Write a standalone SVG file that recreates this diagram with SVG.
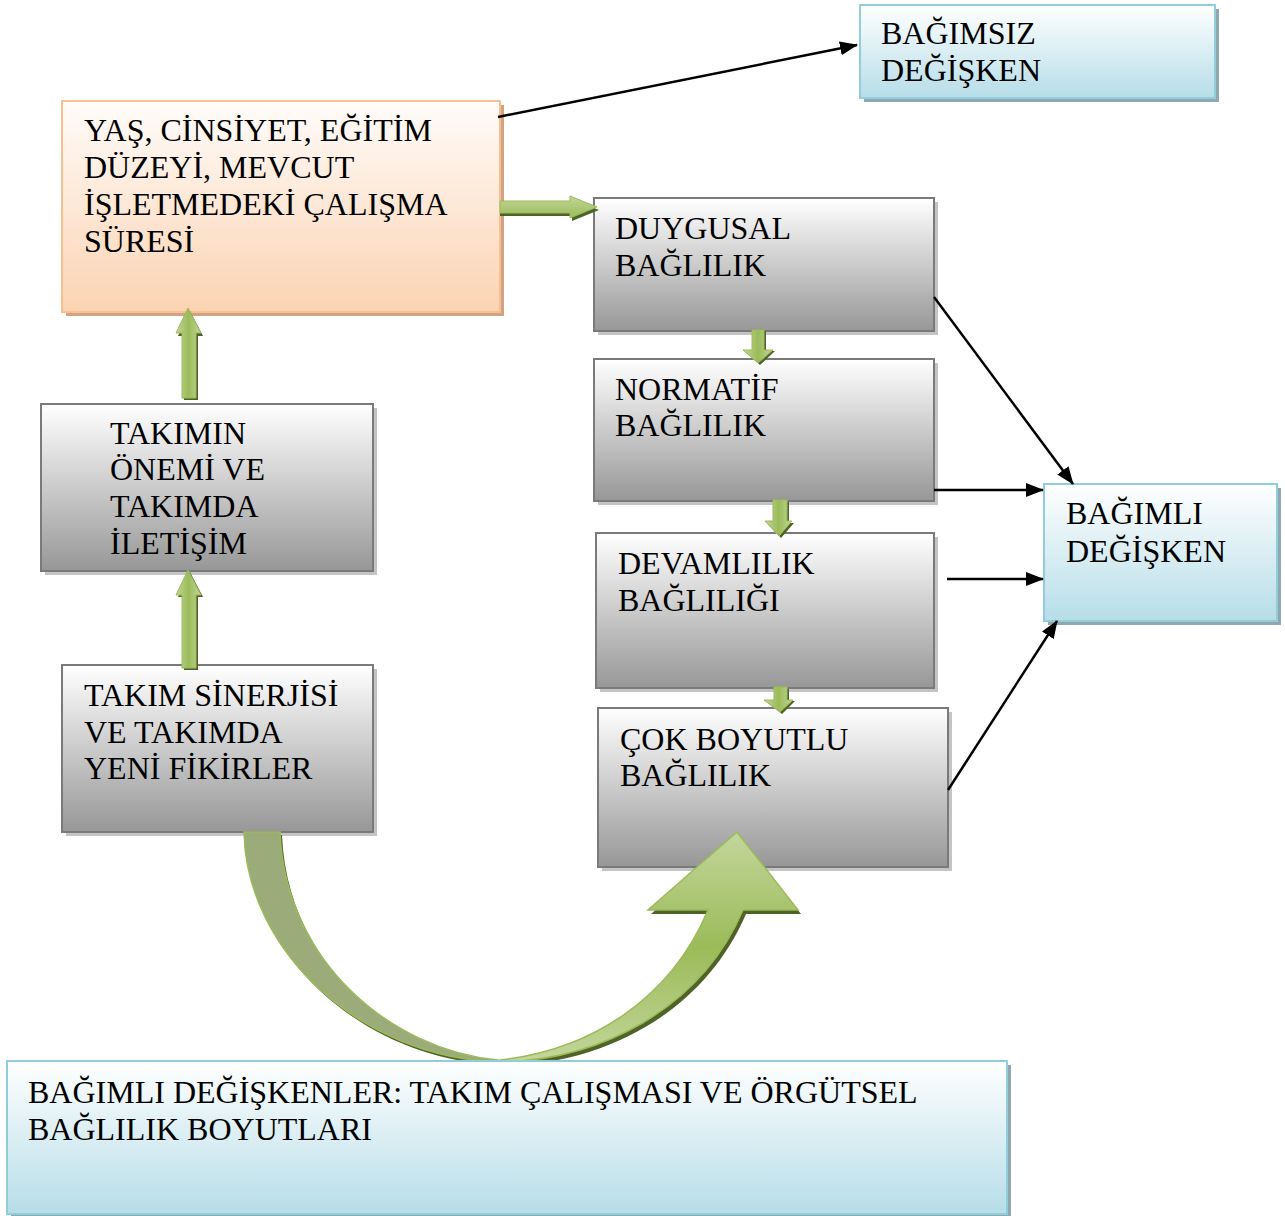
<svg xmlns="http://www.w3.org/2000/svg" width="1285" height="1216" viewBox="0 0 1285 1216">
<style>
text{font-family:"Liberation Serif","Times New Roman",serif;font-size:32px;fill:#000}
.gray{fill:url(#gGray);stroke:#7a7a7a;stroke-width:2}
.peach{fill:url(#gPeach);stroke:#fabf8f;stroke-width:2}
.blue{fill:url(#gBlue);stroke:#92cddc;stroke-width:2}
.shg{fill:#c4c4c4}
.shp{fill:#cfa383}
.shb{fill:#8ea8b0}
.conn{stroke:#000;stroke-width:2.5;fill:none;marker-end:url(#ah)}
.garrow{fill:url(#gGreen);stroke:#9bbb59;stroke-width:1}
.gshadow{fill:#4f6228}
</style>
<defs>
<linearGradient id="gGray" x1="0" y1="0" x2="0" y2="1"><stop offset="0" stop-color="#ffffff"/><stop offset="1" stop-color="#979797"/></linearGradient>
<linearGradient id="gPeach" x1="0" y1="0" x2="0" y2="1"><stop offset="0" stop-color="#fffcfa"/><stop offset="1" stop-color="#fbd3b2"/></linearGradient>
<linearGradient id="gBlue" x1="0" y1="0" x2="0" y2="1"><stop offset="0" stop-color="#ffffff"/><stop offset="1" stop-color="#b6dde8"/></linearGradient>
<linearGradient id="gGreen" x1="0" y1="0" x2="0" y2="1"><stop offset="0" stop-color="#c3d69b"/><stop offset="1" stop-color="#9bbb59"/></linearGradient>
<linearGradient id="gGreenH" x1="0" y1="0" x2="1" y2="0"><stop offset="0" stop-color="#c3d69b"/><stop offset="0.5" stop-color="#9bbb59"/><stop offset="1" stop-color="#c3d69b"/></linearGradient>
<linearGradient id="gCurve" x1="0" y1="0" x2="0" y2="1"><stop offset="0" stop-color="#c3d69b"/><stop offset="0.5" stop-color="#9bbb59"/><stop offset="1" stop-color="#c3d69b"/></linearGradient>
<marker id="ah" viewBox="0 0 18 14" refX="17" refY="7" markerWidth="18" markerHeight="14" markerUnits="userSpaceOnUse" orient="auto"><path d="M0,0 L18,7 L0,14 Z" fill="#000"/></marker>
</defs>

<g id="n-bagimsiz">
<rect class="shb" x="864" y="9" width="355" height="93"/>
<rect class="blue" x="860" y="5" width="355" height="93"/>
<text x="881" y="44">BAĞIMSIZ</text>
<text x="881" y="81">DEĞİŞKEN</text>
</g>

<g id="n-yas">
<rect class="shp" x="66" y="105" width="438" height="211"/>
<rect class="peach" x="62" y="101" width="438" height="211"/>
<text x="84" y="141">YAŞ, CİNSİYET, EĞİTİM</text>
<text x="84" y="178">DÜZEYİ, MEVCUT</text>
<text x="84" y="215">İŞLETMEDEKİ ÇALIŞMA</text>
<text x="84" y="252">SÜRESİ</text>
</g>

<g id="n-duygusal">
<rect class="shg" x="598" y="202" width="340" height="133"/>
<rect class="gray" x="594" y="198" width="340" height="133"/>
<text x="615" y="239">DUYGUSAL</text>
<text x="615" y="276">BAĞLILIK</text>
</g>

<g id="n-normatif">
<rect class="shg" x="598" y="363" width="340" height="142"/>
<rect class="gray" x="594" y="359" width="340" height="142"/>
<text x="615" y="400">NORMATİF</text>
<text x="615" y="436">BAĞLILIK</text>
</g>

<g id="n-devamlilik">
<rect class="shg" x="600" y="537" width="338" height="155"/>
<rect class="gray" x="596" y="533" width="338" height="155"/>
<text x="618" y="574">DEVAMLILIK</text>
<text x="618" y="611">BAĞLILIĞI</text>
</g>

<g id="n-cokboyutlu">
<rect class="shg" x="602" y="712" width="350" height="159"/>
<rect class="gray" x="598" y="708" width="350" height="159"/>
<text x="620" y="750">ÇOK BOYUTLU</text>
<text x="620" y="786">BAĞLILIK</text>
</g>

<g id="n-takimin">
<rect class="shg" x="45" y="408" width="332" height="167"/>
<rect class="gray" x="41" y="404" width="332" height="167"/>
<text x="110" y="444">TAKIMIN</text>
<text x="110" y="480">ÖNEMİ VE</text>
<text x="110" y="517">TAKIMDA</text>
<text x="110" y="554">İLETİŞİM</text>
</g>

<g id="n-sinerji">
<rect class="shg" x="66" y="669" width="311" height="167"/>
<rect class="gray" x="62" y="665" width="311" height="167"/>
<text x="84" y="706">TAKIM SİNERJİSİ</text>
<text x="84" y="743">VE TAKIMDA</text>
<text x="84" y="779">YENİ FİKİRLER</text>
</g>

<g id="n-bagimli">
<rect class="shb" x="1048" y="488" width="233" height="137"/>
<rect class="blue" x="1044" y="484" width="233" height="137"/>
<text x="1066" y="524">BAĞIMLI</text>
<text x="1066" y="562">DEĞİŞKEN</text>
</g>

<g id="connectors">
<line class="conn" x1="498" y1="117" x2="857" y2="45"/>
<line class="conn" x1="934" y1="297" x2="1073" y2="484"/>
<line class="conn" x1="934" y1="490" x2="1043" y2="490"/>
<line class="conn" x1="947" y1="579" x2="1043" y2="579"/>
<line class="conn" x1="948" y1="790" x2="1057" y2="621"/>

<!-- right green arrow -->
<polygon class="gshadow" points="500,204 572,204 572,199 599,210 572,221 572,216 500,216"/>
<polygon class="garrow" points="500,201 570,201 570,196 597,207 570,218 570,213 500,213"/>

<!-- down arrows -->
<polygon class="gshadow" points="754,331 766,331 766,351 775,351 760,365 745,351 754,351"/>
<polygon class="garrow" style="fill:url(#gGreenH)" points="752,330 764,330 764,350 773,350 758,363 743,350 752,350"/>
<polygon class="gshadow" points="775,502 789,502 789,523 794,523 781,538 767,523 775,523"/>
<polygon class="garrow" style="fill:url(#gGreenH)" points="773,500 787,500 787,521 792,521 779,536 765,521 773,521"/>
<polygon class="gshadow" points="776,689 789,689 789,701 795,701 782,714 766,701 776,701"/>
<polygon class="garrow" style="fill:url(#gGreenH)" points="774,687 787,687 787,700 793,700 780,712 764,700 774,700"/>

<!-- up arrows -->
<polygon class="gshadow" points="184,400 198,400 198,336 203,336 190,311 178,336 184,336"/>
<polygon class="garrow" style="fill:url(#gGreenH)" points="182,398 196,398 196,333 201,333 188,308 176,333 182,333"/>
<polygon class="gshadow" points="184,670 198,670 198,597 203,597 190,572 178,597 184,597"/>
<polygon class="garrow" style="fill:url(#gGreenH)" points="182,668 196,668 196,595 201,595 188,570 176,595 182,595"/>

<!-- curved arrow -->
<path d="M 244,832 C 246,950 360,1058 500,1062 L 498,1060 C 390,1050 285,960 280,832 Z" fill="#4f6228" transform="translate(2,3)"/>
<path d="M 244,832 C 246,950 360,1058 500,1062 L 498,1060 C 390,1050 285,960 280,832 Z" fill="#9bab79" stroke="#9bbb59" stroke-width="1.5"/>
<path d="M 500,1062 C 600,1060 700,1010 743,910 L 798,910 L 737,832 L 648,910 L 708,910 C 670,1000 590,1050 500,1060 Z" fill="#4f6228" transform="translate(3,4)"/>
<path d="M 500,1062 C 600,1060 700,1010 743,910 L 798,910 L 737,832 L 648,910 L 708,910 C 670,1000 590,1050 500,1060 Z" fill="url(#gCurve)" stroke="#9bbb59" stroke-width="1.5"/>
</g>

<g id="n-bottom">
<rect class="shb" x="11" y="1065" width="1000" height="153"/>
<rect class="blue" x="7" y="1061" width="1000" height="153"/>
<text x="28" y="1103">BAĞIMLI DEĞİŞKENLER: TAKIM ÇALIŞMASI VE ÖRGÜTSEL</text>
<text x="28" y="1140">BAĞLILIK BOYUTLARI</text>
</g>
</svg>
